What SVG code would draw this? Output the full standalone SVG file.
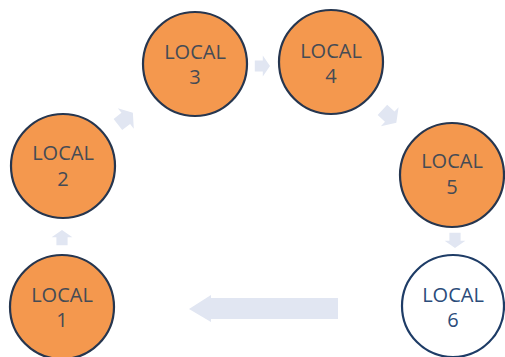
<svg xmlns="http://www.w3.org/2000/svg" width="505" height="357" viewBox="0 0 505 357">
<style>
.n{fill:#F4984E;stroke:#26364F;stroke-width:2.2}
.w{fill:#ffffff;stroke:#1E3C66;stroke-width:2.2}
.t{font-family:"Open Sans","Liberation Sans",sans-serif;font-size:20px;fill:#454B55;text-anchor:middle}
.tw{fill:#2B4C7A}
.a{fill:#E1E6F2}
</style>
<defs>
<path id="sa" d="M-9,-7 H1 V-13 L10,0 L1,13 V7 H-9 Z"/>
</defs>
<g id="connectors">
<use href="#sa" class="a" transform="translate(62,238) scale(0.8) rotate(-90)"/>
<use href="#sa" class="a" transform="translate(125,119) rotate(-38)"/>
<use href="#sa" class="a" transform="translate(262,66) scale(0.8)"/>
<use href="#sa" class="a" transform="translate(389,116) rotate(43)"/>
<use href="#sa" class="a" transform="translate(455,240) scale(0.8) rotate(90)"/>
<path class="a" d="M338,298 H211 V295 L189,309 L211,322 V319 H338 Z"/>
</g>
<g id="local1"><circle class="n" cx="62" cy="307" r="52"/><text class="t" x="62" y="302">LOCAL</text><text class="t" x="62" y="327">1</text></g>
<g id="local2"><circle class="n" cx="63" cy="166" r="52"/><text class="t" x="63" y="160">LOCAL</text><text class="t" x="63" y="186">2</text></g>
<g id="local3"><circle class="n" cx="195" cy="64" r="52"/><text class="t" x="195" y="59">LOCAL</text><text class="t" x="195" y="84">3</text></g>
<g id="local4"><circle class="n" cx="331" cy="62" r="52"/><text class="t" x="331" y="58">LOCAL</text><text class="t" x="331" y="83">4</text></g>
<g id="local5"><circle class="n" cx="452" cy="175" r="52"/><text class="t" x="452" y="168">LOCAL</text><text class="t" x="452" y="194">5</text></g>
<g id="local6"><circle class="w" cx="453" cy="306" r="51"/><text class="t tw" x="453" y="302">LOCAL</text><text class="t tw" x="453" y="327">6</text></g>
</svg>
